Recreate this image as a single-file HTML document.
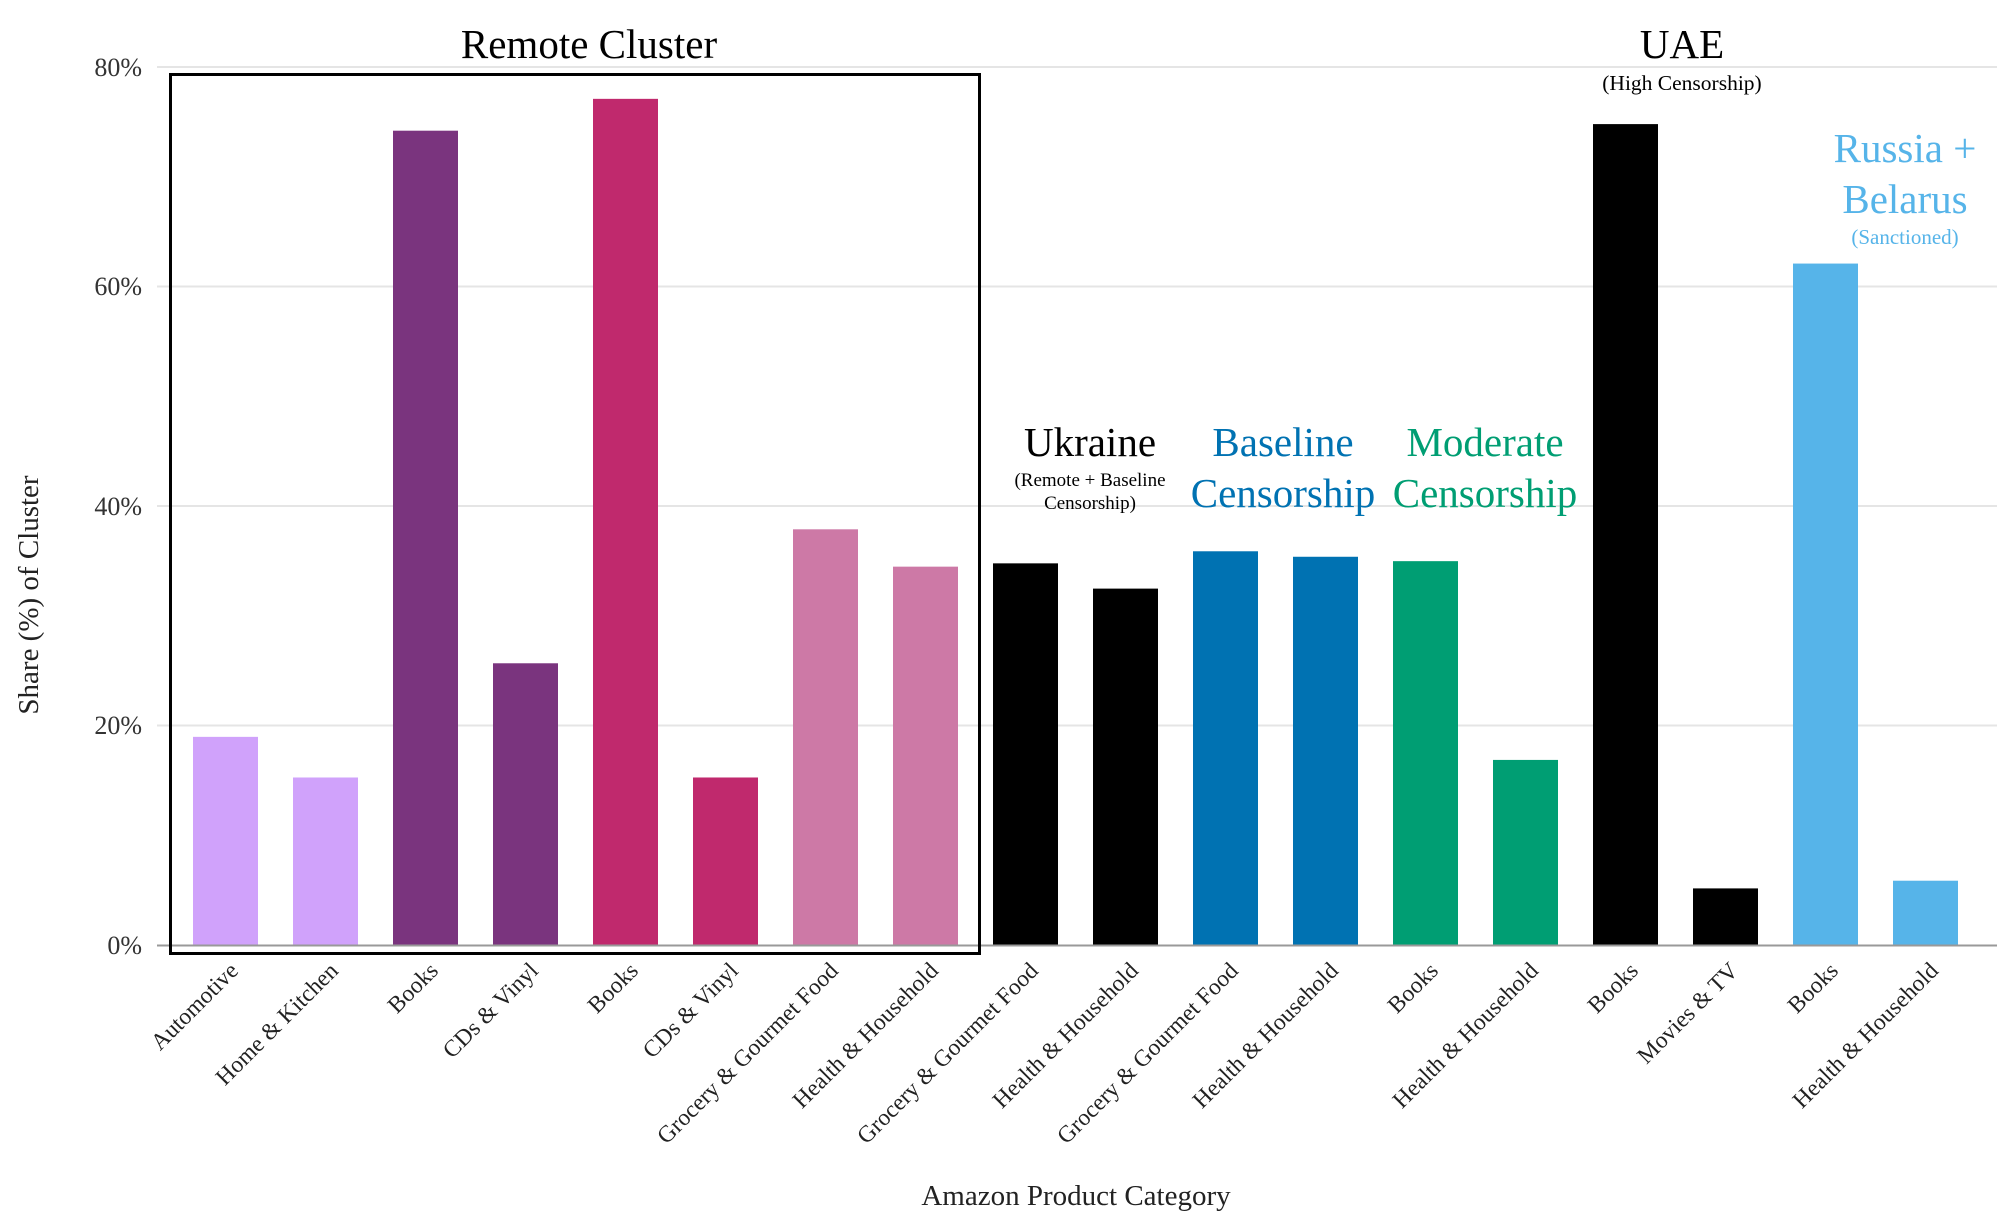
<!DOCTYPE html>
<html><head><meta charset="utf-8"><style>body{margin:0;background:#fff}svg{display:block}</style></head>
<body>
<svg width="1999" height="1227" xmlns="http://www.w3.org/2000/svg" font-family="Liberation Serif, serif">
<g stroke="#e5e5e5" stroke-width="2">
<line x1="157" x2="1997" y1="67" y2="67"/>
<line x1="157" x2="1997" y1="286.5" y2="286.5"/>
<line x1="157" x2="1997" y1="506" y2="506"/>
<line x1="157" x2="1997" y1="725.5" y2="725.5"/>
</g>
<g font-size="26" fill="#333" text-anchor="end">
<text x="142" y="76">80%</text>
<text x="142" y="295">60%</text>
<text x="142" y="515">40%</text>
<text x="142" y="734">20%</text>
<text x="142" y="954">0%</text>
</g>
<g id="bars"></g>
<line x1="157" x2="1997" y1="945.5" y2="945.5" stroke="#999" stroke-width="2"/>
<rect x="170.5" y="74.5" width="809" height="879" fill="none" stroke="#000" stroke-width="3"/>
<g id="labels" font-size="23.5" fill="#222" text-anchor="end"></g>
<text x="589" y="58" font-size="41" text-anchor="middle">Remote Cluster</text>
<text x="1682" y="58" font-size="41" text-anchor="middle">UAE</text>
<text x="1682" y="90" font-size="21.5" text-anchor="middle">(High Censorship)</text>
<text x="1090" y="456" font-size="41" text-anchor="middle">Ukraine</text>
<text x="1090" y="486" font-size="19" text-anchor="middle">(Remote + Baseline</text>
<text x="1090" y="509" font-size="19" text-anchor="middle">Censorship)</text>
<g fill="#0072b2" font-size="41" text-anchor="middle"><text x="1283" y="456">Baseline</text><text x="1283" y="507">Censorship</text></g>
<g fill="#009e73" font-size="41" text-anchor="middle"><text x="1485" y="456">Moderate</text><text x="1485" y="507">Censorship</text></g>
<g fill="#56b4e9" text-anchor="middle"><text x="1905" y="162" font-size="41">Russia +</text><text x="1905" y="213" font-size="41">Belarus</text><text x="1905" y="244" font-size="21">(Sanctioned)</text></g>
<text x="1076" y="1205" font-size="29" fill="#222" text-anchor="middle">Amazon Product Category</text>
<text transform="translate(38,595) rotate(-90)" font-size="29" fill="#222" text-anchor="middle">Share (%) of Cluster</text>
</svg>
<script>
var v=[19,15.3,74.2,25.7,77.1,15.3,37.9,34.5,34.8,32.5,35.9,35.4,35.0,16.9,74.8,5.2,62.1,5.9];
var c=["#d0a2fb","#d0a2fb","#7a347e","#7a347e","#c0296d","#c0296d","#cd79a6","#cd79a6","#000","#000","#0072b2","#0072b2","#009e73","#009e73","#000","#000","#56b4e9","#56b4e9"];
var l=["Automotive","Home & Kitchen","Books","CDs & Vinyl","Books","CDs & Vinyl","Grocery & Gourmet Food","Health & Household","Grocery & Gourmet Food","Health & Household","Grocery & Gourmet Food","Health & Household","Books","Health & Household","Books","Movies & TV","Books","Health & Household"];
var ns="http://www.w3.org/2000/svg",b=document.getElementById("bars"),g=document.getElementById("labels");
for(var i=0;i<18;i++){var cx=225.5+100*i,h=v[i]*878.5/80;
var r=document.createElementNS(ns,"rect");r.setAttribute("x",cx-32.5);r.setAttribute("width",65);r.setAttribute("y",945.5-h);r.setAttribute("height",h);r.setAttribute("fill",c[i]);b.appendChild(r);
var t=document.createElementNS(ns,"text");t.setAttribute("transform","translate("+(cx+14)+",972) rotate(-45)");t.textContent=l[i];g.appendChild(t);}
</script>
</body></html>
